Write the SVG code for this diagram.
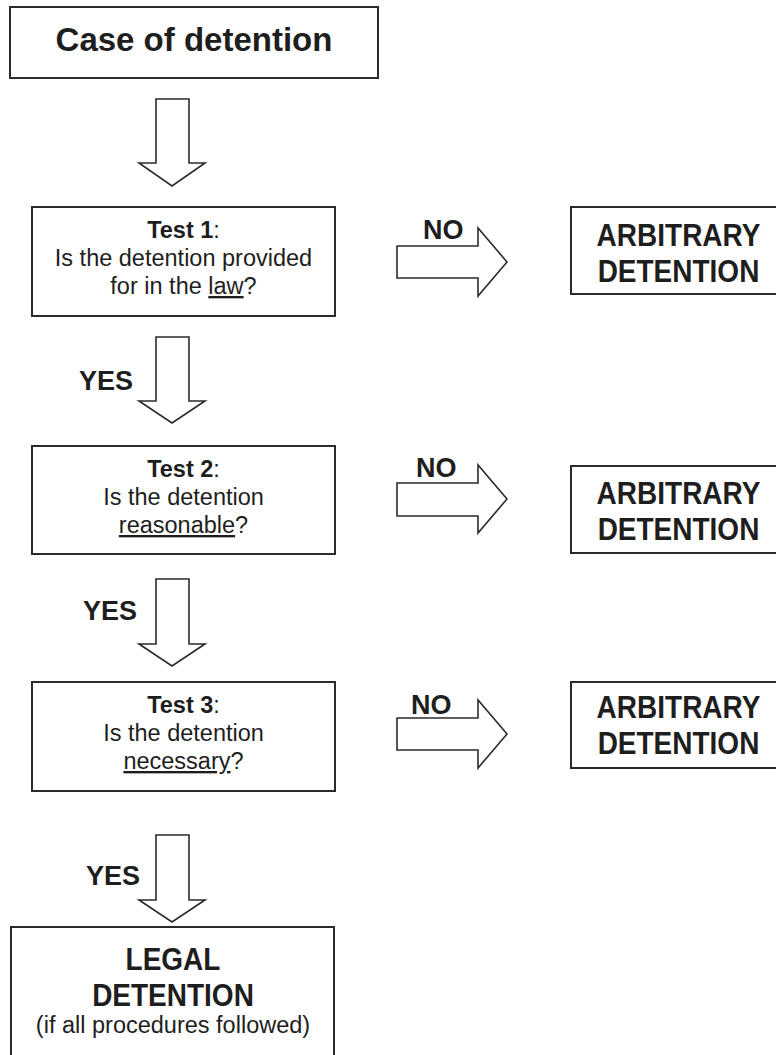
<svg xmlns="http://www.w3.org/2000/svg" width="776" height="1055" viewBox="0 0 776 1055">
<style>
.box{fill:#fff;stroke:#2b2b2b;stroke-width:2}
.arr{fill:#fff;stroke:#2b2b2b;stroke-width:1.6;stroke-linejoin:miter}
text{font-family:"Liberation Sans",Arial,Helvetica,sans-serif;fill:#1e1e1e}
.b{font-weight:bold}
.t{font-size:23.5px;text-anchor:middle}
.big{font-size:28px;font-weight:bold;text-anchor:middle}
.lbl{font-size:27px;font-weight:bold}
.u{text-decoration:underline}
</style>
<rect width="776" height="1055" fill="#fff"/>
<g id="start">
<rect class="box" x="10" y="7" width="368" height="71"/>
<text x="194" y="51" class="b" font-size="33" text-anchor="middle">Case of detention</text>
</g>
<g id="test1">
<rect class="box" x="32" y="207" width="303" height="109"/>
<text class="t" x="183.5" y="238"><tspan class="b">Test 1</tspan>:</text>
<text class="t" x="183.5" y="266">Is the detention provided</text>
<text class="t" x="183.5" y="294">for in the <tspan class="u">law</tspan>?</text>
</g>
<g id="arb1">
<rect class="box" x="571" y="207" width="215" height="87"/>
<text class="big" transform="translate(678.5,246) scale(1,1.1)">ARBITRARY</text>
<text class="big" transform="translate(678.5,282) scale(1,1.1)">DETENTION</text>
</g>
<g id="test2">
<rect class="box" x="32" y="446" width="303" height="108"/>
<text class="t" x="183.5" y="477"><tspan class="b">Test 2</tspan>:</text>
<text class="t" x="183.5" y="505">Is the detention</text>
<text class="t" x="183.5" y="533"><tspan class="u">reasonable</tspan>?</text>
</g>
<g id="arb2">
<rect class="box" x="571" y="466" width="215" height="87"/>
<text class="big" transform="translate(678.5,504) scale(1,1.1)">ARBITRARY</text>
<text class="big" transform="translate(678.5,540) scale(1,1.1)">DETENTION</text>
</g>
<g id="test3">
<rect class="box" x="32" y="682" width="303" height="109"/>
<text class="t" x="183.5" y="713"><tspan class="b">Test 3</tspan>:</text>
<text class="t" x="183.5" y="741">Is the detention</text>
<text class="t" x="183.5" y="769"><tspan class="u">necessary</tspan>?</text>
</g>
<g id="arb3">
<rect class="box" x="571" y="682" width="215" height="86"/>
<text class="big" transform="translate(678.5,718) scale(1,1.1)">ARBITRARY</text>
<text class="big" transform="translate(678.5,754) scale(1,1.1)">DETENTION</text>
</g>
<g id="legal">
<rect class="box" x="11" y="927" width="323" height="140"/>
<text class="big" transform="translate(173,970) scale(1,1.1)">LEGAL</text>
<text class="big" transform="translate(173,1006) scale(1,1.1)">DETENTION</text>
<text class="t" x="173" y="1033">(if all procedures followed)</text>
</g>
<g id="connectors">
<polygon class="arr" points="156,99 189,99 189,163 205,163 172,186 139,163 156,163"/>
<polygon class="arr" points="156,337 189,337 189,401 205,401 172,423 139,401 156,401"/>
<text class="lbl" x="133" y="390" text-anchor="end">YES</text>
<polygon class="arr" points="156,579 189,579 189,644 205,644 172,666 139,644 156,644"/>
<text class="lbl" x="137" y="620" text-anchor="end">YES</text>
<polygon class="arr" points="156,835 189,835 189,900 205,900 172,922 139,900 156,900"/>
<text class="lbl" x="140" y="885" text-anchor="end">YES</text>
<polygon class="arr" points="397,246 478,246 478,228 507,262 478,296 478,278 397,278"/>
<text class="lbl" x="423" y="239">NO</text>
<polygon class="arr" points="397,483 478,483 478,465 507,499 478,533 478,516 397,516"/>
<text class="lbl" x="416" y="477">NO</text>
<polygon class="arr" points="397,718 478,718 478,700 507,734 478,768 478,750 397,750"/>
<text class="lbl" x="411" y="714">NO</text>
</g>
</svg>
